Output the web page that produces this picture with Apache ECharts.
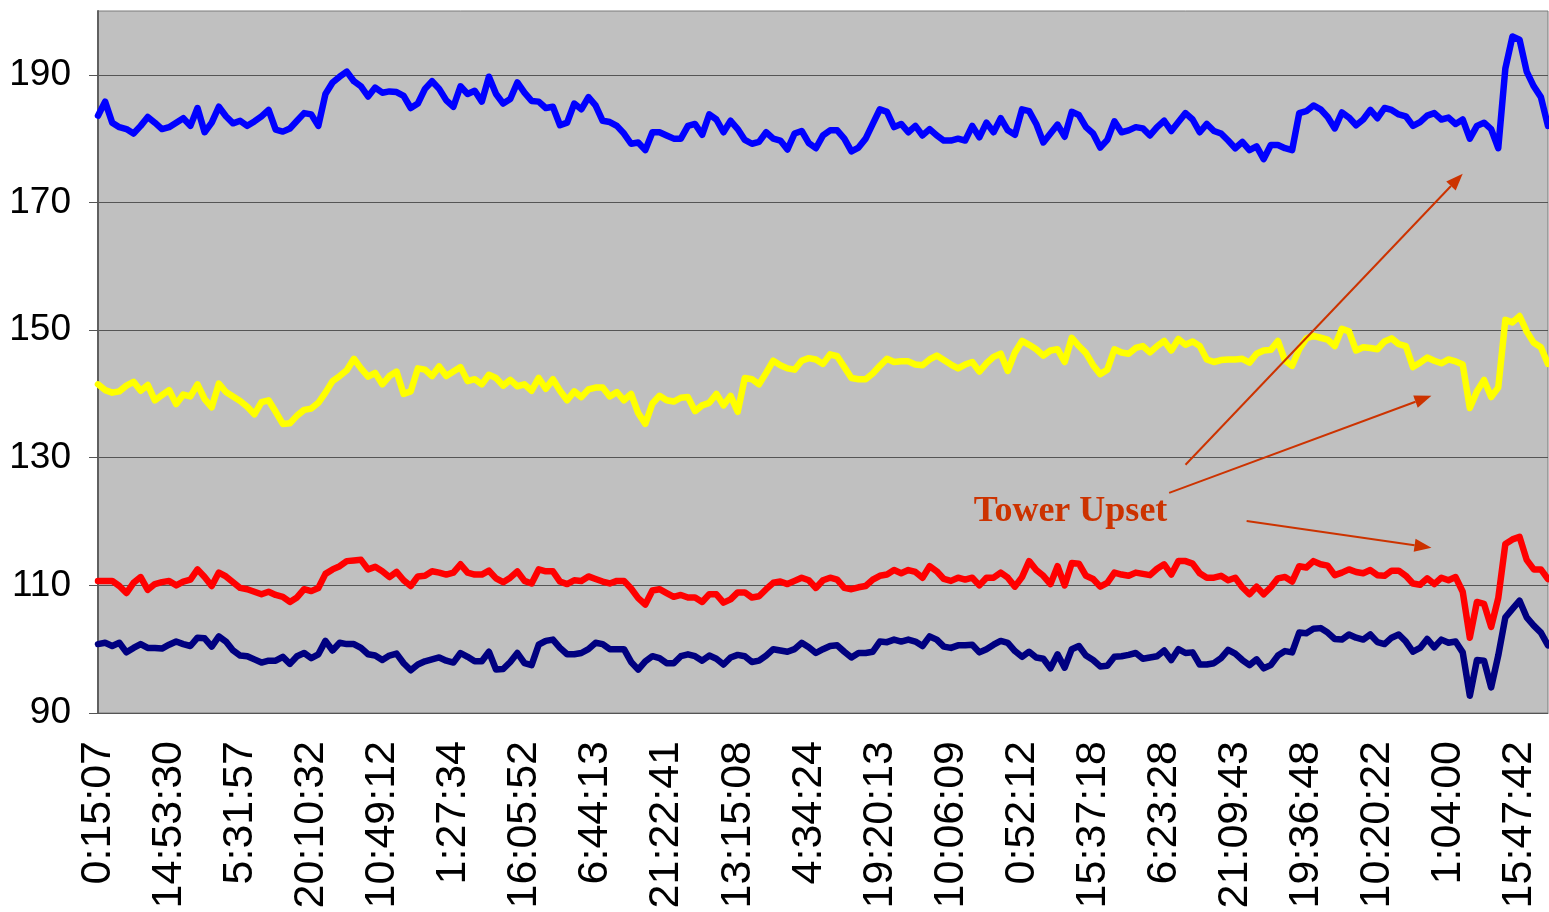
<!DOCTYPE html>
<html>
<head>
<meta charset="utf-8">
<script src="https://cdn.jsdelivr.net/npm/echarts@6/dist/echarts.min.js"></script>
<style>
  html, body { margin: 0; padding: 0; background: #ffffff; }
  #chart { width: 1549px; height: 912px; }
</style>
</head>
<body>
<div id="chart"></div>
<script>
// Time stamps shown under the axis, one every 10 samples
const tickLabels = ['0:15:07', '14:53:30', '5:31:57', '20:10:32', '10:49:12', '1:27:34', '16:05:52',
  '6:44:13', '21:22:41', '13:15:08', '4:34:24', '19:20:13', '10:06:09', '0:52:12', '15:37:18',
  '6:23:28', '21:09:43', '19:36:48', '10:20:22', '1:04:00', '15:47:42'];
const samplesPerTick = 10;

// Four tower temperature traces, one value per sample
const upper = [
  183.6, 185.8, 182.5, 181.8, 181.5, 180.8, 182, 183.4, 182.5, 181.5,
  181.8, 182.5, 183.2, 182, 184.8, 181, 182.5, 185, 183.5, 182.4,
  182.8, 182, 182.7, 183.5, 184.5, 181.4, 181.1, 181.6, 182.8, 184,
  183.8, 182, 187, 188.8, 189.7, 190.5, 189, 188.2, 186.6, 188,
  187.2, 187.4, 187.3, 186.7, 184.8, 185.5, 187.8, 189, 187.8, 186,
  185, 188.2, 187, 187.5, 185.8, 189.7, 187, 185.5, 186.2, 188.8,
  187.2, 185.9, 185.8, 184.8, 185, 182.1, 182.5, 185.5, 184.6, 186.5,
  185.2, 182.8, 182.6, 182, 180.8, 179.2, 179.4, 178.2, 181, 181,
  180.5, 180, 180, 182, 182.3, 180.6, 183.8, 183, 181, 182.8,
  181.5, 179.8, 179.2, 179.5, 181, 180, 179.7, 178.3, 180.8, 181.2,
  179.3, 178.5, 180.5, 181.3, 181.3, 180, 178, 178.6, 180, 182.3,
  184.6, 184.2, 181.8, 182.3, 181, 182, 180.5, 181.5, 180.5, 179.7,
  179.7, 180, 179.7, 182, 180.2, 182.5, 181, 183.2, 181.3, 180.6,
  184.6, 184.3, 182.3, 179.4, 180.8, 182.2, 180.3, 184.2, 183.7, 181.8,
  180.8, 178.6, 179.8, 182.7, 181, 181.3, 181.8, 181.6, 180.5, 181.8,
  182.8, 181.2, 182.6, 184, 183, 181, 182.3, 181.2, 180.8, 179.7,
  178.5, 179.5, 178.2, 178.8, 176.8, 179, 179, 178.5, 178.2, 184,
  184.3, 185.2, 184.6, 183.4, 181.6, 184.1, 183.3, 182.1, 183, 184.5,
  183.2, 184.8, 184.5, 183.8, 183.5, 182, 182.6, 183.6, 184, 183,
  183.3, 182.3, 183, 180, 182, 182.5, 181.5, 178.5, 191, 196,
  195.5, 190.5, 188.2, 186.5, 182
];
const middle = [
  141.5, 140.6, 140.2, 140.4, 141.3, 141.9, 140.5, 141.4, 139, 139.8,
  140.6, 138.4, 139.9, 139.6, 141.5, 139.2, 137.9, 141.6, 140.3, 139.6,
  138.9, 138, 136.8, 138.7, 139, 137.2, 135.3, 135.4, 136.6, 137.5,
  137.7, 138.6, 140.2, 142, 142.8, 143.7, 145.5, 144, 142.7, 143.3,
  141.5, 142.8, 143.5, 140, 140.4, 144, 143.8, 142.8, 144.3, 142.8,
  143.5, 144.2, 142, 142.3, 141.5, 143, 142.5, 141.3, 142.2, 141.2,
  141.5, 140.5, 142.5, 140.8, 142.3, 140.5, 139, 140.4, 139.5, 140.7,
  141, 141, 139.6, 140.3, 139, 140, 137, 135.3, 138.5, 139.7,
  139, 138.8, 139.4, 139.5, 137.3, 138.2, 138.6, 140, 138.2, 139.7,
  137.2, 142.5, 142.3, 141.5, 143.3, 145.2, 144.5, 144, 143.8, 145.2,
  145.6, 145.4, 144.7, 146.2, 145.9, 144.2, 142.5, 142.3, 142.3, 143.2,
  144.4, 145.5, 145, 145.1, 145.1, 144.6, 144.5, 145.4, 146, 145.3,
  144.6, 144, 144.6, 145, 143.5, 144.8, 145.8, 146.3, 143.6, 146.5,
  148.3, 147.7, 147, 146, 146.8, 147, 145, 148.8, 147.5, 146.4,
  144.5, 143.1, 143.8, 147, 146.5, 146.3, 147.2, 147.5, 146.5, 147.5,
  148.3, 146.8, 148.6, 147.7, 148.2, 147.5, 145.4, 145, 145.3, 145.4,
  145.4, 145.5, 144.9, 146.3, 146.8, 146.9, 148.3, 145.2, 144.4, 147,
  148.7, 149.1, 148.8, 148.5, 147.5, 150.2, 149.8, 146.8, 147.3, 147.2,
  147, 148.2, 148.7, 147.8, 147.5, 144.2, 144.9, 145.7, 145.2, 144.8,
  145.4, 145.1, 144.6, 137.8, 140.4, 142.2, 139.5, 141, 151.6, 151.2,
  152.2, 149.8, 148, 147.3, 144.7
];
const lower = [
  110.7, 110.7, 110.7, 109.9, 108.8, 110.4, 111.3, 109.3, 110.2, 110.5,
  110.7, 110, 110.6, 110.9, 112.5, 111.3, 109.9, 112, 111.4, 110.5,
  109.6, 109.4, 109, 108.6, 109, 108.5, 108.2, 107.4, 108.1, 109.4,
  109.1, 109.6, 111.8, 112.5, 113, 113.8, 113.9, 114, 112.5, 112.9,
  112.2, 111.3, 112.1, 110.8, 109.9, 111.4, 111.5, 112.2, 112, 111.7,
  112, 113.3, 112, 111.7, 111.7, 112.3, 111.1, 110.5, 111.2, 112.2,
  110.7, 110.3, 112.5, 112.2, 112.2, 110.6, 110.2, 110.8, 110.7, 111.4,
  111, 110.6, 110.3, 110.7, 110.7, 109.5, 108, 107, 109.2, 109.4,
  108.8, 108.2, 108.5, 108.1, 108.1, 107.4, 108.6, 108.6, 107.3, 107.8,
  108.9, 108.9, 108.1, 108.3, 109.4, 110.4, 110.6, 110.2, 110.7, 111.2,
  110.8, 109.6, 110.8, 111.2, 110.9, 109.6, 109.4, 109.7, 109.9, 110.9,
  111.5, 111.7, 112.4, 111.9, 112.4, 112.1, 111.2, 113, 112.2, 111,
  110.7, 111.2, 110.9, 111.2, 110, 111.2, 111.2, 112, 111.2, 109.8,
  111.3, 113.8, 112.4, 111.5, 110.2, 113, 110, 113.5, 113.4, 111.5,
  111, 109.8, 110.4, 112, 111.7, 111.5, 112, 111.8, 111.6, 112.6,
  113.3, 111.7, 113.8, 113.8, 113.4, 111.9, 111.2, 111.2, 111.5, 110.8,
  111.2, 109.7, 108.6, 109.8, 108.6, 109.7, 111.1, 111.3, 110.6, 113,
  112.8, 113.8, 113.3, 113.1, 111.6, 112, 112.5, 112.1, 111.9, 112.4,
  111.6, 111.5, 112.3, 112.3, 111.5, 110.3, 110.1, 111.1, 110.2, 111.2,
  110.8, 111.3, 109, 101.8, 107.4, 107.1, 103.5, 108, 116.5, 117.2,
  117.6, 114, 112.5, 112.5, 111
];
const bottom = [
  100.8, 101, 100.5, 101, 99.5, 100.2, 100.8, 100.2, 100.2, 100.1,
  100.7, 101.2, 100.8, 100.5, 101.8, 101.7, 100.4, 102, 101.2, 99.8,
  99, 98.9, 98.4, 97.9, 98.2, 98.2, 98.8, 97.7, 98.9, 99.4,
  98.6, 99.2, 101.3, 99.8, 101, 100.8, 100.8, 100.2, 99.2, 99,
  98.3, 99, 99.3, 97.8, 96.7, 97.6, 98.1, 98.4, 98.7, 98.2,
  97.9, 99.4, 98.8, 98.1, 98.1, 99.6, 96.8, 96.9, 98, 99.4,
  97.8, 97.5, 100.7, 101.3, 101.5, 100.2, 99.2, 99.2, 99.4, 100,
  101, 100.8, 100, 100, 100, 98, 96.8, 98.1, 98.9, 98.6,
  97.8, 97.8, 98.9, 99.2, 98.9, 98.2, 99, 98.5, 97.6, 98.7,
  99.1, 98.9, 98, 98.2, 99, 100, 99.8, 99.6, 100, 101,
  100.3, 99.4, 100, 100.5, 100.6, 99.6, 98.7, 99.4, 99.4, 99.6,
  101.2, 101.1, 101.5, 101.2, 101.5, 101.2, 100.5, 102, 101.5, 100.4,
  100.2, 100.6, 100.6, 100.7, 99.5, 100, 100.7, 101.3, 101, 99.7,
  98.8, 99.6, 98.7, 98.5, 97, 99.2, 97.1, 100, 100.5, 99,
  98.3, 97.3, 97.4, 98.8, 98.9, 99.1, 99.4, 98.5, 98.7, 98.9,
  99.8, 98.3, 100, 99.4, 99.5, 97.6, 97.6, 97.8, 98.6, 99.9,
  99.3, 98.3, 97.5, 98.4, 97, 97.5, 99, 99.7, 99.5, 102.6,
  102.5, 103.2, 103.3, 102.6, 101.6, 101.5, 102.3, 101.8, 101.5, 102.3,
  101.1, 100.8, 101.8, 102.3, 101.2, 99.6, 100.2, 101.6, 100.3, 101.5,
  101, 101.2, 99.5, 92.7, 98.3, 98.2, 94, 99, 105, 106.3,
  107.6, 105, 103.7, 102.6, 100.6
];

// Y axis scale
const yMin = 90, yMax = 200, yStep = 20;
const yTicks = [90, 110, 130, 150, 170, 190];

// Callout: text anchor and arrows, in (sample index, value) space
const calloutText = 'Tower Upset';
const calloutAnchor = [123.2, 121.6];
const calloutArrows = [
  [153.0, 128.9, 192.0, 174.5],
  [150.7, 124.5, 187.6, 139.7],
  [161.6, 120.1, 187.6, 115.9]
];

const categories = upper.map((_, i) =>
  i % samplesPerTick === 0 && tickLabels[i / samplesPerTick] ? tickLabels[i / samplesPerTick] : '');

const chart = echarts.init(document.getElementById('chart'), null, { renderer: 'canvas' });

function lineSeries(name, data, color) {
  return {
    name, type: 'line', data,
    showSymbol: false, symbol: 'none',
    lineStyle: { color, width: 6.5, join: 'round', cap: 'round' },
    itemStyle: { color },
    emphasis: { disabled: true },
    animation: false
  };
}

chart.setOption({
  animation: false,
  backgroundColor: '#ffffff',
  grid: {
    left: 98, right: 1, top: 11, bottom: 199,
    show: true, backgroundColor: '#c0c0c0', borderColor: '#7a7a7a', borderWidth: 1
  },
  xAxis: {
    type: 'category', data: categories, boundaryGap: false,
    axisLine: { show: true, lineStyle: { color: '#555555', width: 1 } },
    axisTick: { show: false },
    splitLine: { show: false },
    axisLabel: {
      interval: (idx) => idx % samplesPerTick === 0,
      rotate: 90, margin: 28,
      fontFamily: 'Liberation Sans', fontSize: 43, color: '#000000'
    }
  },
  yAxis: {
    type: 'value', min: yMin, max: yMax, interval: yStep,
    axisLine: { show: true, lineStyle: { color: '#606060', width: 2 } },
    axisTick: { show: true, length: 9, customValues: yTicks, lineStyle: { color: '#555555', width: 1 } },
    splitLine: { show: true, lineStyle: { color: '#555555', width: 1.2 } },
    axisLabel: {
      customValues: yTicks, margin: 27,
      fontFamily: 'Liberation Sans', fontSize: 37, color: '#000000'
    }
  },
  series: [
    lineSeries('upper', upper, '#0000ff'),
    lineSeries('middle', middle, '#ffff00'),
    lineSeries('lower', lower, '#ff0000'),
    lineSeries('bottom', bottom, '#000080')
  ]
});

// Map a fractional sample index and a value onto the canvas
function toPixel(idx, val) {
  const x0 = chart.convertToPixel({ xAxisIndex: 0 }, 0);
  const x1 = chart.convertToPixel({ xAxisIndex: 0 }, upper.length - 1);
  const y = chart.convertToPixel({ yAxisIndex: 0 }, val);
  return [x0 + (x1 - x0) * idx / (upper.length - 1), y];
}

const calloutColor = '#cc3300';
const graphics = [];
calloutArrows.forEach(([i0, v0, i1, v1]) => {
  const p0 = toPixel(i0, v0), p1 = toPixel(i1, v1);
  const dx = p1[0] - p0[0], dy = p1[1] - p0[1];
  const len = Math.hypot(dx, dy), ux = dx / len, uy = dy / len;
  const head = 17, half = 6.5;
  const bx = p1[0] - ux * head, by = p1[1] - uy * head;
  graphics.push({
    type: 'line', z: 100,
    shape: { x1: p0[0], y1: p0[1], x2: bx, y2: by },
    style: { stroke: calloutColor, lineWidth: 2 }
  });
  graphics.push({
    type: 'polygon', z: 100,
    shape: { points: [p1, [bx - uy * half, by + ux * half], [bx + uy * half, by - ux * half]] },
    style: { fill: calloutColor }
  });
});
const ta = toPixel(calloutAnchor[0], calloutAnchor[1]);
graphics.push({
  type: 'text', z: 100, x: ta[0], y: ta[1],
  style: {
    text: calloutText, fill: calloutColor,
    font: 'bold 36px "Liberation Serif"', textVerticalAlign: 'middle', textAlign: 'left'
  }
});
chart.setOption({ graphic: graphics });
</script>
</body>
</html>
